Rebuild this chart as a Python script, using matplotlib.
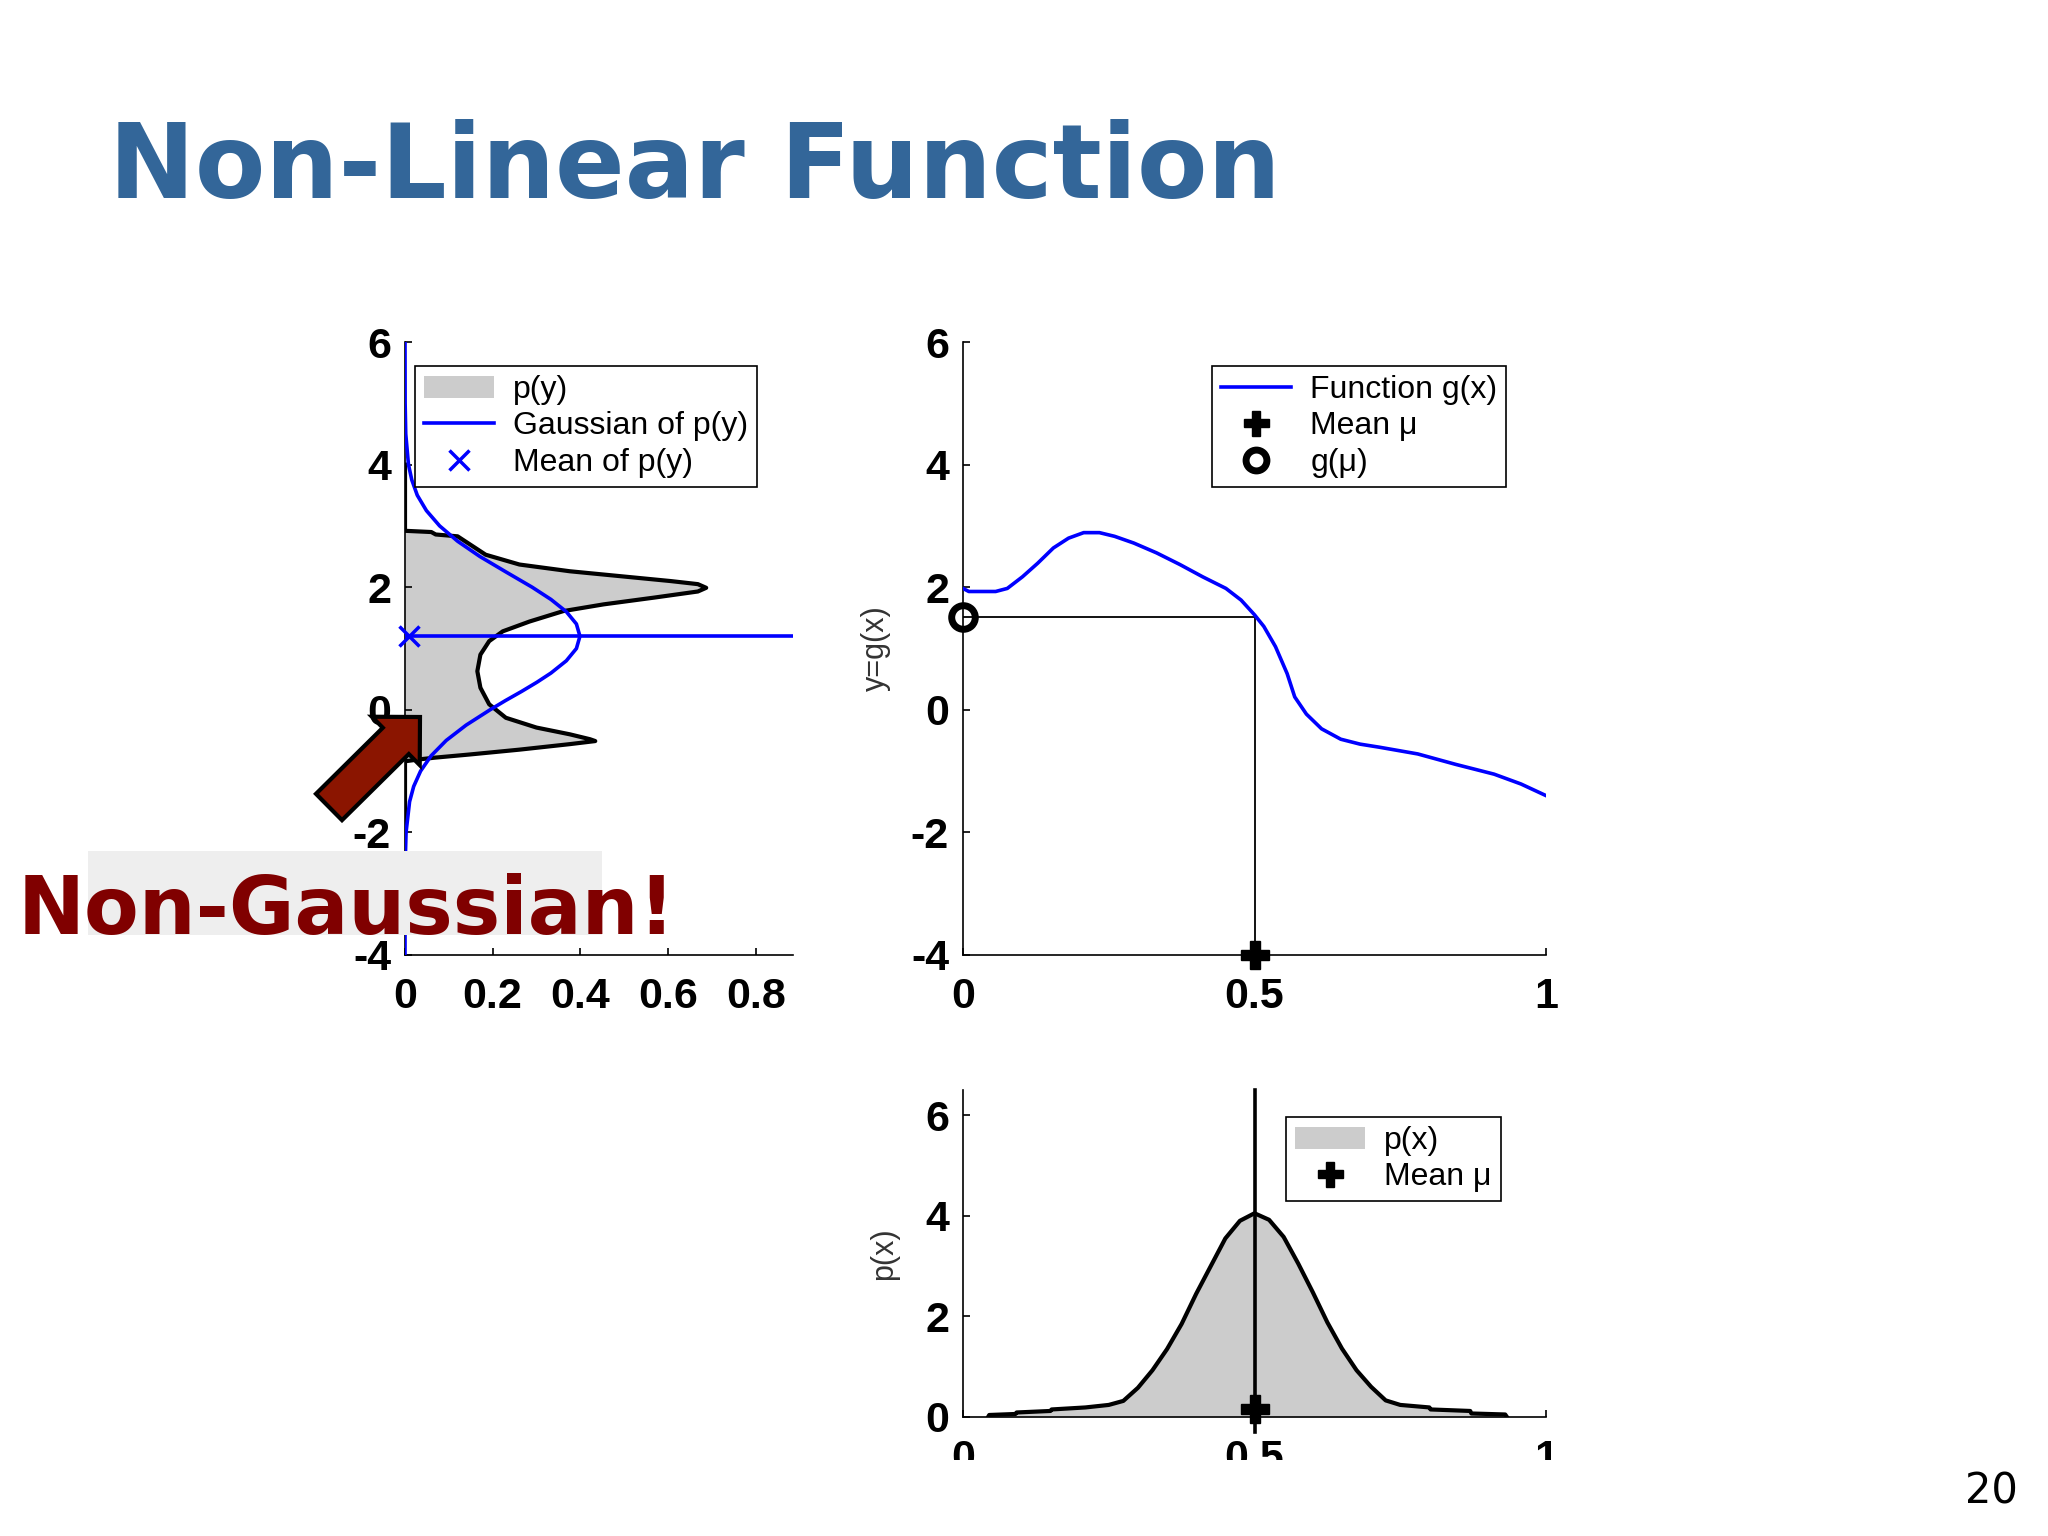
import matplotlib.pyplot as plt
from matplotlib.patches import Rectangle, FancyArrow, Patch
from matplotlib.lines import Line2D

plt.rcParams['font.family'] = ['Liberation Sans', 'DejaVu Sans']
plt.rcParams['axes.unicode_minus'] = False

# p(y): y on the vertical axis, density on the horizontal
py_y = [4.0, 2.92, 2.90, 2.86, 2.83, 2.53, 2.37, 2.26, 2.18, 2.10, 2.05, 1.99,
        1.93, 1.83, 1.72, 1.61, 1.44, 1.28, 1.12, 0.90, 0.63, 0.36, 0.09,
        -0.13, -0.29, -0.40, -0.48, -0.51, -0.56, -0.65, -0.73, -0.78, -0.81,
        -0.84, -2.0]
py_p = [0.0, 0.0, 0.06, 0.07, 0.12, 0.184, 0.261, 0.376, 0.491, 0.606, 0.668, 0.687,
        0.668, 0.568, 0.453, 0.361, 0.284, 0.223, 0.192, 0.172, 0.165, 0.172, 0.192,
        0.230, 0.300, 0.376, 0.422, 0.434, 0.376, 0.261, 0.146, 0.069, 0.031,
        0.0, 0.0]

# Gaussian fitted to p(y)
gauss_y = [6.0, 5.0, 4.5, 4.0, 3.75, 3.5, 3.25, 3.0, 2.75, 2.5, 2.25, 2.1, 2.0,
           1.8, 1.6, 1.4, 1.2, 1.0, 0.8, 0.6, 0.45, 0.3, 0.15, 0.0, -0.25, -0.5,
           -0.75, -1.0, -1.25, -1.5, -2.0, -2.5, -3.0, -4.0]
gauss_p = [0.0, 0.0003, 0.0017, 0.0079, 0.0155, 0.028, 0.0488, 0.079, 0.120, 0.171,
           0.230, 0.266, 0.290, 0.333, 0.368, 0.391, 0.399, 0.391, 0.368, 0.333,
           0.301, 0.266, 0.229, 0.194, 0.1394, 0.094, 0.0596, 0.0355, 0.0198,
           0.0104, 0.0024, 0.0004, 0.0001, 0.0]
mean_y = 1.2

# non-linear function g(x)
gx_x = [0.0, 0.01, 0.056, 0.076, 0.102, 0.128, 0.155, 0.181, 0.207, 0.234, 0.26,
        0.293, 0.332, 0.372, 0.411, 0.451, 0.477, 0.5, 0.516, 0.536, 0.556, 0.569,
        0.589, 0.615, 0.648, 0.681, 0.714, 0.78, 0.845, 0.911, 0.957, 1.0]
gx_y = [1.98, 1.93, 1.93, 1.98, 2.17, 2.39, 2.64, 2.80, 2.89, 2.89, 2.83,
        2.72, 2.56, 2.37, 2.17, 1.98, 1.79, 1.55, 1.36, 1.03, 0.59, 0.21,
        -0.07, -0.31, -0.48, -0.56, -0.61, -0.72, -0.89, -1.05, -1.21, -1.40]
mu = 0.5
g_mu = 1.52

# p(x)
px_x = [0.043, 0.045, 0.09, 0.092, 0.15, 0.152, 0.21, 0.25, 0.275, 0.3, 0.325,
        0.35, 0.375, 0.4, 0.425, 0.45, 0.475, 0.5, 0.525, 0.55, 0.575, 0.6, 0.625,
        0.65, 0.675, 0.7, 0.725, 0.75, 0.8, 0.802, 0.87, 0.872, 0.93, 0.933]
px_p = [0.0, 0.04, 0.06, 0.09, 0.12, 0.15, 0.19, 0.24, 0.32, 0.58, 0.93,
        1.35, 1.85, 2.45, 3.0, 3.55, 3.9, 4.05, 3.92, 3.58, 3.05, 2.48, 1.88,
        1.36, 0.93, 0.6, 0.33, 0.24, 0.19, 0.15, 0.12, 0.07, 0.05, 0.0]

blue = '#0000ff'
fill_gray = '#cccccc'
tick_font = dict(family='Liberation Sans', weight='bold', size=31)


def style_axes(ax):
    ax.spines['top'].set_visible(False)
    ax.spines['right'].set_visible(False)
    for s in ('left', 'bottom'):
        ax.spines[s].set_linewidth(1.2)
    ax.tick_params(direction='in', length=5, width=1.2)
    ax.tick_params(axis='x', pad=16)
    ax.tick_params(axis='y', pad=10)
    for lab in ax.get_xticklabels() + ax.get_yticklabels():
        lab.set_fontproperties(tick_font)
    ax.set_facecolor('none')


def add_legend(ax, handles, labels, x0, y0):
    leg = ax.legend(handles, labels, loc='upper left',
                    bbox_to_anchor=(x0 / 2048, 1 - y0 / 1536),
                    bbox_transform=ax.figure.transFigure, borderaxespad=0,
                    fontsize=23, frameon=True, fancybox=False, framealpha=1,
                    edgecolor='k', handlelength=2.2, handletextpad=0.6,
                    labelspacing=0.2, borderpad=0.28)
    leg.get_frame().set_linewidth(1.2)
    return leg


fig = plt.figure(figsize=(20.48, 15.36), dpi=100)

# left panel: p(y)
ax1 = fig.add_axes([405 / 2048, 1 - 955 / 1536, 388 / 2048, 613 / 1536])
ax1.fill_betweenx(py_y, 0, py_p, color=fill_gray, lw=0, zorder=1)
ax1.plot(py_p, py_y, color='k', lw=3.0, zorder=2)
ax1.plot(gauss_p, gauss_y, color=blue, lw=2.6, zorder=3)
ax1.axhline(mean_y, color=blue, lw=2.6, zorder=3)
ax1.plot([0.01], [mean_y], ls='none', marker='x', color=blue, ms=15, mew=2.5,
         clip_on=False, zorder=4)
ax1.set_xlim(0, 0.885)
ax1.set_ylim(-4, 6)
ax1.set_xticks([0, 0.2, 0.4, 0.6, 0.8])
ax1.set_xticklabels(['0', '0.2', '0.4', '0.6', '0.8'])
ax1.set_yticks([-4, -2, 0, 2, 4, 6])
style_axes(ax1)
add_legend(ax1,
           [Patch(facecolor=fill_gray, edgecolor='none'),
            Line2D([], [], color=blue, lw=2.6),
            Line2D([], [], ls='none', marker='x', color=blue, ms=15, mew=2.5)],
           ['p(y)', 'Gaussian of p(y)', 'Mean of p(y)'], 415, 366)

# right panel: g(x)
ax2 = fig.add_axes([963 / 2048, 1 - 955 / 1536, 583 / 2048, 613 / 1536])
ax2.plot(gx_x, gx_y, color=blue, lw=2.6, zorder=3)
ax2.plot([0, mu, mu], [g_mu, g_mu, -4], color='k', lw=1.3, zorder=2)
ax2.plot([mu], [-4], ls='none', marker='P', color='k', ms=20, clip_on=False, zorder=5)
ax2.plot([0], [g_mu], ls='none', marker='o', mfc='none', mec='k', ms=17, mew=5,
         clip_on=False, zorder=5)
ax2.set_xlim(0, 1)
ax2.set_ylim(-4, 6)
ax2.set_xticks([0, 0.5, 1])
ax2.set_xticklabels(['0', '0.5', '1'])
ax2.set_yticks([-4, -2, 0, 2, 4, 6])
ax2.set_ylabel('y=g(x)', fontsize=22, color='#333333', labelpad=14)
style_axes(ax2)
add_legend(ax2,
           [Line2D([], [], color=blue, lw=2.6),
            Line2D([], [], ls='none', marker='P', color='k', ms=18),
            Line2D([], [], ls='none', marker='o', mfc='none', mec='k', ms=15, mew=5)],
           ['Function g(x)', 'Mean \u03bc', 'g(\u03bc)'], 1212, 366)

# bottom panel: p(x)
ax3 = fig.add_axes([963 / 2048, 1 - 1417 / 1536, 583 / 2048, 327 / 1536])
ax3.fill_between(px_x, 0, px_p, color=fill_gray, lw=0, zorder=1)
ax3.plot(px_x, px_p, color='k', lw=3.0, zorder=2)
ax3.plot([mu, mu], [-0.3, 6.5], color='k', lw=2.6, clip_on=False, zorder=3)
ax3.plot([mu], [0.15], ls='none', marker='P', color='k', ms=20, clip_on=False, zorder=5)
ax3.set_xlim(0, 1)
ax3.set_ylim(0, 6.5)
ax3.set_xticks([0, 0.5, 1])
ax3.set_xticklabels(['0', '0.5', '1'])
ax3.set_yticks([0, 2, 4, 6])
ax3.set_ylabel('p(x)', fontsize=22, color='#333333', labelpad=19)
style_axes(ax3)
add_legend(ax3,
           [Patch(facecolor=fill_gray, edgecolor='none'),
            Line2D([], [], ls='none', marker='P', color='k', ms=18)],
           ['p(x)', 'Mean \u03bc'], 1286, 1117)

# slide overlay in pixel coordinates
ov = fig.add_axes([0, 0, 1, 1])
ov.set_xlim(0, 2048)
ov.set_ylim(1536, 0)
ov.axis('off')
ov.patch.set_alpha(0)

ov.text(109, 198, 'Non-Linear Function', fontsize=74, fontweight='bold',
        family='DejaVu Sans', color='#336699', va='baseline', ha='left')
ov.add_patch(Rectangle((88, 851), 514, 84, facecolor='#eeeeee', edgecolor='none', zorder=1))
ov.text(18, 934, 'Non-Gaussian!', fontsize=57.5, fontweight='bold',
        family='DejaVu Sans', color='#800000', va='baseline', ha='left', zorder=3)
ov.add_patch(FancyArrow(329, 807, 91, -90, width=37, head_width=68, head_length=34,
                        length_includes_head=True, facecolor='#8b1500',
                        edgecolor='k', lw=3, zorder=4))
ov.add_patch(Rectangle((700, 1460), 1000, 80, facecolor='white', edgecolor='none', zorder=1))
ov.text(1965, 1503, '20', fontsize=30, family='DejaVu Sans', color='k',
        va='baseline', ha='left', zorder=3)

fig.savefig('out.png', dpi=100)
